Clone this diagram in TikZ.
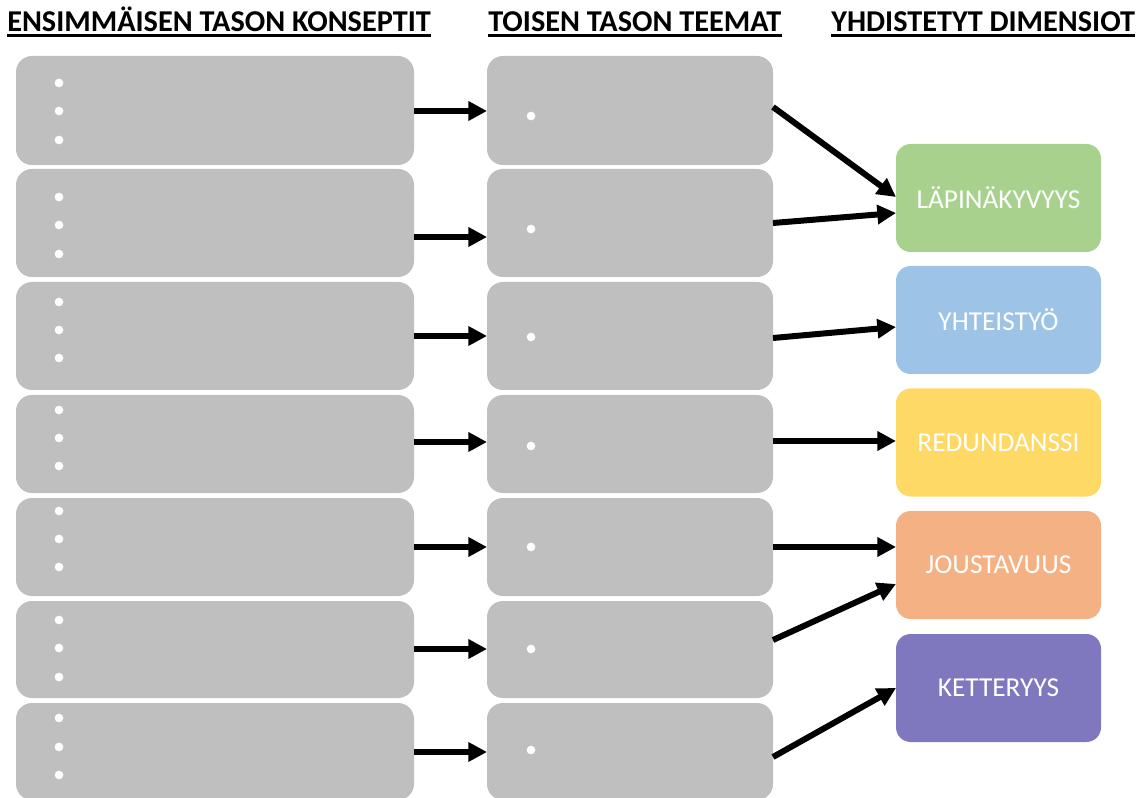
\documentclass[tikz,border=0pt]{standalone}
\usepackage{fontspec}
\setmainfont{Carlito}
\usetikzlibrary{arrows.meta}

\definecolor{boxgrey}{HTML}{BFBFBF}
\definecolor{dimgreen}{HTML}{A9D18E}
\definecolor{dimblue}{HTML}{9DC3E6}
\definecolor{dimyellow}{HTML}{FFD966}
\definecolor{dimorange}{HTML}{F4B183}
\definecolor{dimpurple}{HTML}{7F78BF}

\begin{document}
\begin{tikzpicture}[x=0.75pt,y=-0.75pt,
  greybox/.style={fill=boxgrey, rounded corners=12pt, inner sep=0pt, outer sep=0pt},
  leftbox/.style={greybox, minimum width=298.5pt},
  midbox/.style={greybox, minimum width=214.5pt},
  dimbox/.style={rounded corners=11pt, inner sep=0pt, outer sep=0pt,
    minimum width=153.75pt, minimum height=81pt, text=white,
    font=\fontsize{20.5}{24}\selectfont},
  dot/.style={circle, fill=white, inner sep=0pt, minimum size=6.5pt},
  arr/.style={line width=4.5pt, -{Triangle[length=14pt,width=14pt]}},
  header/.style={font=\bfseries\fontsize{22.7}{27}\selectfont, anchor=base west, inner sep=0pt},
  underl/.style={line width=1.6pt}
]
\useasboundingbox (0,0) rectangle (1139,798);
\clip (0,0) rectangle (1139,798);

% column headings
\node[header] (h1) at (7,32) {ENSIMMÄISEN TASON KONSEPTIT};
\node[header] (h2) at (488,32) {TOISEN TASON TEEMAT};
\node[header] (h3) at (831,32) {YHDISTETYT DIMENSIOT};
\foreach \h in {h1,h2,h3}
  \draw[underl] ([yshift=-2.6pt]\h.base west) -- ([yshift=-2.6pt]\h.base east);

% first- and second-level rows
\foreach \i/\t/\b/\da/\db/\dc/\md/\ay in {
    1/56/165/83/111/140/116/111,
    2/169/277/197/225/254/229/237,
    3/282/390/302/330/358/337/336,
    4/395/493/410/438/466/446/442,
    5/498/596/511/539/567/547/547,
    6/601/698/620/648/677/649/649,
    7/703/800/718/747/775/750/752}{
  \pgfmathsetmacro\c{(\t+\b)/2}
  \pgfmathsetmacro\hh{(\b-\t)*0.75}
  \node[leftbox, minimum height=\hh pt] (l\i) at (215,\c) {};
  \node[midbox, minimum height=\hh pt] (m\i) at (630,\c) {};
  \node[dot] (l\i a) at (59,\da) {};
  \node[dot] (l\i b) at (59,\db) {};
  \node[dot] (l\i c) at (59,\dc) {};
  \node[dot] (m\i a) at (531,\md) {};
  \coordinate (y\i) at (0,\ay);
  \draw[arr] (l\i.east |- y\i) -- (m\i.west |- y\i);
}

% aggregate dimensions
\node[dimbox, fill=dimgreen]  (r1) at (998.5,198)   {LÄPINÄKYVYYS};
\node[dimbox, fill=dimblue]   (r2) at (998.5,320)   {YHTEISTYÖ};
\node[dimbox, fill=dimyellow] (r3) at (998.5,442.5) {REDUNDANSSI};
\node[dimbox, fill=dimorange] (r4) at (998.5,565)   {JOUSTAVUUS};
\node[dimbox, fill=dimpurple] (r5) at (998.5,688)   {KETTERYYS};

% themes to dimensions
\foreach \i/\sy/\r/\ty in {1/107/r1/197, 2/223/r1/213, 3/338/r2/327,
    4/441/r3/441, 5/547/r4/547, 6/640/r4/584, 7/757/r5/688}{
  \coordinate (s\i) at (0,\sy);
  \coordinate (t\i) at (0,\ty);
  \draw[arr] (m\i.east |- s\i) -- (\r.west |- t\i);
}
\end{tikzpicture}
\end{document}
